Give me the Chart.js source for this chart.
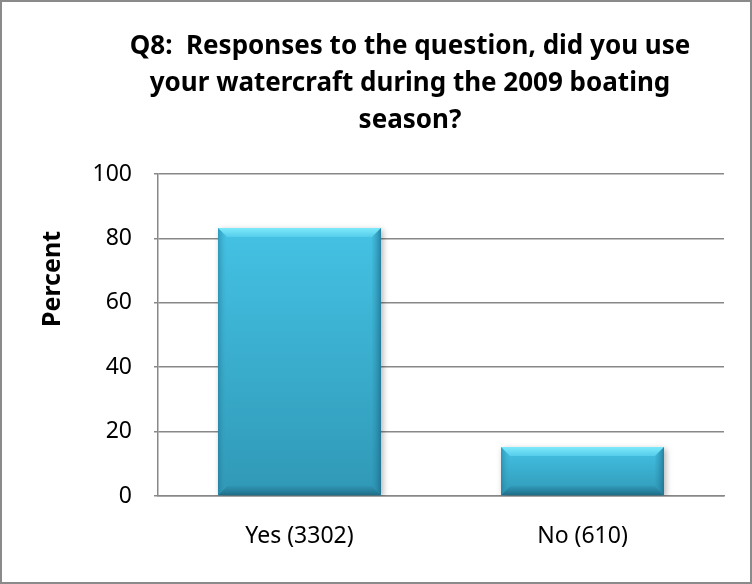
<!DOCTYPE html>
<html>
<head>
<meta charset="utf-8">
<script src="https://cdn.jsdelivr.net/npm/chart.js@4/dist/chart.umd.min.js"></script>
<style>
  html, body { margin: 0; padding: 0; background: #fff; }
  #wrap { width: 752px; height: 584px; position: relative; }
</style>
</head>
<body>
<div id="wrap"><canvas id="c" width="752" height="584"></canvas></div>
<script>
const titleLines = ["Q8:  Responses to the question, did you use", "your watercraft during the 2009 boating", "season?"];
const categories = ["Yes (3302)", "No (610)"];
const percentValues = [83.2, 15.2];
const yTicks = [0, 20, 40, 60, 80, 100];
const yAxisLabel = "Percent";

const FONT = "'Noto Sans', 'Open Sans', sans-serif";

function barGradient(ctx) {
  const chart = ctx.chart;
  const y = chart.scales && chart.scales.y;
  if (!chart.chartArea || !y || !ctx.parsed) return '#38AACB';
  const top = y.getPixelForValue(ctx.parsed.y);
  const base = y.getPixelForValue(0);
  const g = chart.ctx.createLinearGradient(0, top, 0, base);
  g.addColorStop(0, '#44C2E4');
  g.addColorStop(1, '#3098B6');
  return g;
}

const bevelPlugin = {
  id: 'bevel',
  beforeDatasetDraw(chart) {
    const c = chart.ctx;
    c.save();
    c.shadowColor = 'rgba(0,0,0,0.3)';
    c.shadowBlur = 6;
    c.shadowOffsetX = 2;
    c.shadowOffsetY = 2;
  },
  afterDatasetDraw(chart) {
    chart.ctx.restore();
    const c = chart.ctx;
    const meta = chart.getDatasetMeta(0);
    meta.data.forEach(bar => {
      const l = bar.x - bar.width / 2, r = bar.x + bar.width / 2;
      const t = bar.y, b = bar.base;
      const s = Math.min(9, (b - t) / 3);
      c.save();
      let g = c.createLinearGradient(0, t, 0, t + s);
      g.addColorStop(0, '#7DE9FA');
      g.addColorStop(1, '#55CDEB');
      c.fillStyle = g;
      c.beginPath(); c.moveTo(l, t); c.lineTo(r, t); c.lineTo(r - s, t + s); c.lineTo(l + s, t + s); c.closePath(); c.fill();
      g = c.createLinearGradient(l, 0, l + s, 0);
      g.addColorStop(0, 'rgba(30,110,140,0.5)');
      g.addColorStop(1, 'rgba(60,170,205,0.0)');
      c.fillStyle = g;
      c.beginPath(); c.moveTo(l, t); c.lineTo(l + s, t + s); c.lineTo(l + s, b - s); c.lineTo(l, b); c.closePath(); c.fill();
      g = c.createLinearGradient(r, 0, r - s, 0);
      g.addColorStop(0, 'rgba(25,95,125,0.65)');
      g.addColorStop(1, 'rgba(40,140,175,0.1)');
      c.fillStyle = g;
      c.beginPath(); c.moveTo(r, t); c.lineTo(r - s, t + s); c.lineTo(r - s, b - s); c.lineTo(r, b); c.closePath(); c.fill();
      g = c.createLinearGradient(0, b, 0, b - s);
      g.addColorStop(0, 'rgba(25,90,115,0.7)');
      g.addColorStop(1, 'rgba(35,120,150,0.25)');
      c.fillStyle = g;
      c.beginPath(); c.moveTo(l, b); c.lineTo(r, b); c.lineTo(r - s, b - s); c.lineTo(l + s, b - s); c.closePath(); c.fill();
      c.restore();
    });
  }
};

const framePlugin = {
  id: 'frame',
  beforeDraw(chart) {
    const c = chart.ctx;
    c.save();
    c.fillStyle = '#ffffff';
    c.fillRect(0, 0, chart.width, chart.height);
    c.strokeStyle = '#8a8a8a';
    c.lineWidth = 2;
    c.strokeRect(1, 1, chart.width - 2, chart.height - 2);
    c.restore();
  },
  afterDraw(chart) {
    const c = chart.ctx;
    c.save();
    c.fillStyle = '#000';
    c.textAlign = 'center';
    c.textBaseline = 'middle';
    c.font = "bold 26px " + FONT;
    titleLines.forEach((line, i) => c.fillText(line, 410, 47 + i * 37));
    c.translate(53, 279);
    c.rotate(-Math.PI / 2);
    c.font = "bold 25px " + FONT;
    c.fillText(yAxisLabel, 0, 0);
    c.restore();
  }
};

new Chart(document.getElementById('c'), {
  type: 'bar',
  data: {
    labels: categories,
    datasets: [{
      data: percentValues,
      backgroundColor: barGradient,
      borderWidth: 0,
      categoryPercentage: 1.0,
      barPercentage: 0.576
    }]
  },
  options: {
    responsive: false,
    animation: false,
    layout: { padding: { top: 174, right: 28, bottom: 0, left: 0 } },
    plugins: {
      legend: { display: false },
      tooltip: { enabled: false },
      title: { display: false }
    },
    scales: {
      x: {
        grid: { display: false, drawTicks: false },
        border: { display: true, color: '#888', width: 1.5 },
        ticks: { color: '#000', font: { family: FONT, size: 23 }, padding: 27 },
        afterFit(scale) { scale.height = 88; }
      },
      y: {
        min: 0, max: 100,
        afterBuildTicks(scale) { scale.ticks = yTicks.map(v => ({ value: v })); },
        grid: { color: '#888', lineWidth: 1.5, tickLength: 4 },
        border: { display: true, color: '#888', width: 1.5 },
        ticks: { color: '#000', font: { family: FONT, size: 23 }, padding: 22 },
        afterFit(scale) { scale.width = 158; }
      }
    }
  },
  plugins: [framePlugin, bevelPlugin]
});
</script>
</body>
</html>
